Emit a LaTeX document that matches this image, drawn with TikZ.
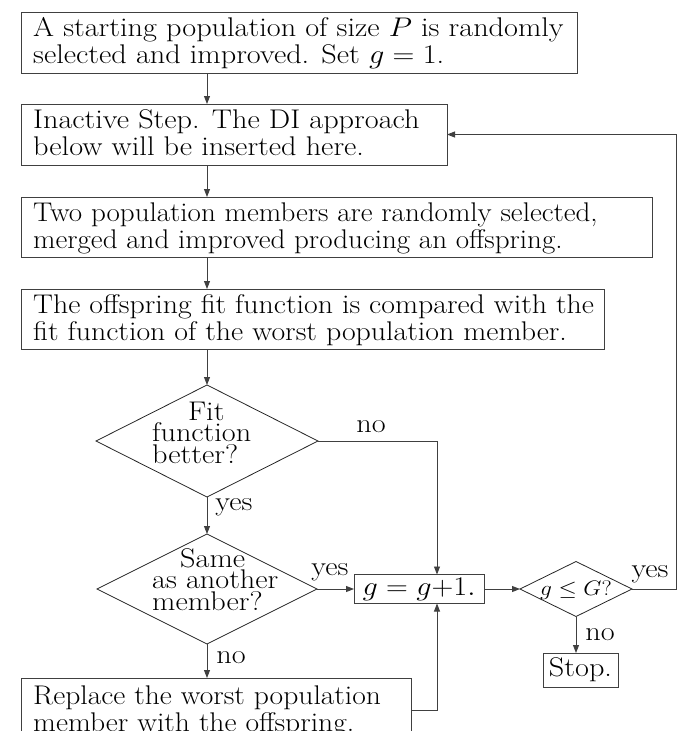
\RequirePackage{fix-cm}
\documentclass[tikz,border=0pt]{standalone}
\usepackage{graphicx}
\usetikzlibrary{shapes.geometric,arrows.meta}
\newcommand{\hs}[1]{\scalebox{1.12}[1]{#1}}
\newcommand{\hsl}[2][1.12]{\scalebox{#1}[1]{\begin{tabular}[t]{@{}l@{}}#2\end{tabular}}}
\newcommand{\dlines}[3]{\scalebox{1.12}[1]{\vtop{\baselineskip=21.5pt\lineskiplimit=-10pt\hbox{\hspace*{#1}#2}#3}}}
\begin{document}
\begin{tikzpicture}[x=1pt,y=-1pt,
  every node/.style={font=\fontsize{27}{27}\selectfont},
  box/.style={draw=black!75, line width=0.9pt, anchor=north west, inner sep=0pt, outer sep=0pt},
  btext/.style={anchor=base west, inner sep=0pt},
  cbox/.style={draw=black!75, line width=0.9pt, inner sep=0pt, outer sep=0pt},
  dia/.style={draw=black!85, line width=0.8pt, diamond, inner sep=0pt, outer sep=0pt},
  conn/.style={draw=black!75, line width=0.9pt},
  arr/.style={conn, -{Triangle[length=8pt,width=6pt]}},
  lbl/.style={anchor=base, inner sep=0pt}]
\useasboundingbox (0,0) rectangle (680,731);
\clip (0,0) rectangle (680,731);

\coordinate (ax) at (207,0);
\coordinate (gx) at (437,0);
\coordinate (rt) at (676,0);

\node[box, minimum width=556pt, minimum height=61pt] (b1) at (21,12) {};
\node[btext] (b1t) at (33,36.7)
  {\hsl{A starting population of size $P$ is randomly\\selected and improved. Set $g=1$.}};
\node[box, minimum width=426pt, minimum height=61pt] (b2) at (21,104) {};
\node[btext] (b2t) at (33,128.7)
  {\hsl{Inactive Step. The DI approach\\below will be inserted here.}};
\node[box, minimum width=631pt, minimum height=60pt] (b3) at (21,197) {};
\node[btext] (b3t) at (33,221.7)
  {\hsl[1.075]{Two population members are randomly selected,\\merged and improved producing an offspring.}};
\node[box, minimum width=583pt, minimum height=60pt] (b4) at (21,289) {};
\node[btext] (b4t) at (33,313.7)
  {\hsl[1.105]{The offspring fit function is compared with the\\fit function of the worst population member.}};

\node[dia, minimum width=222pt, minimum height=112pt] (d1) at (207,441) {};
\node[btext] (d1t) at (152,420)
  {\dlines{32pt}{Fit}{\hbox{function}\hbox{better?}}};

\node[dia, minimum width=220pt, minimum height=110pt] (d2) at (207,589) {};
\node[btext] (d2t) at (152,567)
  {\dlines{25pt}{Same}{\hbox{as another}\hbox{member?}}};

\node[cbox, minimum width=130pt, minimum height=29pt] (g) at (419,589) {\hs{$g = g{+}1.$}};

\node[dia, minimum width=112pt, minimum height=55pt] (d3) at (576,589) {};
\node[inner sep=0pt, font=\fontsize{21}{21}\selectfont] (d3t) at (576,590) {\hs{$g \leq G?$}};

\node[cbox, minimum width=75pt, minimum height=34pt] (stop) at (580.5,670) {\hs{Stop.}};

\node[box, minimum width=390pt, minimum height=64pt] (rep) at (21,678) {};
\node[btext] (rept) at (33,704)
  {\hsl[1.095]{Replace the worst population\\member with the offspring.}};

% labels
\node[lbl] (l1) at (371,432) {\hs{no}};
\node[lbl] (l2) at (234,510) {\hs{yes}};
\node[lbl] (l3) at (330,575) {\hs{yes}};
\node[lbl] (l4) at (231,663) {\hs{no}};
\node[lbl] (l5) at (650,577) {\hs{yes}};
\node[lbl] (l6) at (600,640) {\hs{no}};

% connectors
\draw[arr] (b1.south -| ax) -- (b2.north -| ax);
\draw[arr] (b2.south -| ax) -- (b3.north -| ax);
\draw[arr] (b3.south -| ax) -- (b4.north -| ax);
\draw[arr] (b4.south -| ax) -- (d1.north);
\draw[arr] (d1.south) -- (d2.north);
\draw[arr] (d2.south) -- (rep.north -| ax);
\draw[arr] (d1.east) -- (d1.east -| gx) -- (g.north -| gx);
\draw[arr] (d2.east) -- (g.west);
\draw[arr] (rep.east) -- (rep.east -| gx) -- (g.south -| gx);
\draw[arr] (g.east) -- (d3.west);
\draw[arr] (d3.east) -- (d3.east -| rt) -- (b2.east -| rt) -- (b2.east);
\draw[arr] (d3.south) -- (d3.south |- stop.north);
\end{tikzpicture}
\end{document}
